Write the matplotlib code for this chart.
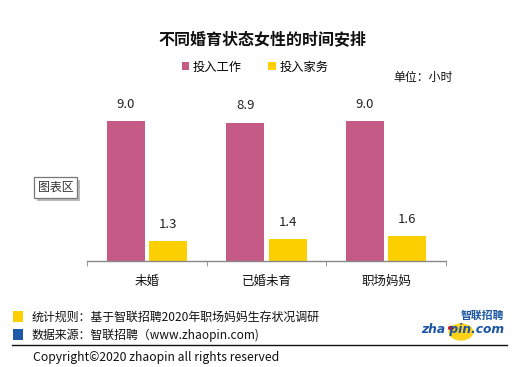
import matplotlib.pyplot as plt
import numpy as np
from matplotlib.patches import Rectangle, Circle
from matplotlib.lines import Line2D

plt.rcParams['font.family'] = ['Noto Sans CJK SC', 'DejaVu Sans']

# data
categories = ['未婚', '已婚未育', '职场妈妈']
work_hours = [9.0, 8.9, 9.0]
house_hours = [1.3, 1.4, 1.6]
series_names = ['投入工作', '投入家务']

PINK = '#C55A87'
YELLOW = '#FCD000'
BLUE = '#1B55A3'
W, H = 532, 367


def fx(x):
    return x / W


def fy(y):
    return 1 - y / H


fig = plt.figure(figsize=(5.32, 3.67), dpi=100)
ax = fig.add_axes([fx(87), fy(261), fx(446) - fx(87), (261 - 105.4) / H])

x = np.arange(len(categories))
bw = 0.317
off = 0.177
b1 = ax.bar(x - off, work_hours, bw, color=PINK, label=series_names[0])
b2 = ax.bar(x + off, house_hours, bw, color=YELLOW, label=series_names[1])

for bars in (b1, b2):
    for r in bars:
        ax.annotate(f'{r.get_height():.1f}', (r.get_x() + r.get_width() / 2, r.get_height()),
                    xytext=(0, 12), textcoords='offset points', ha='center', va='center',
                    fontsize=9.5, color='#222222')

ax.set_xlim(-0.5, 2.5)
ax.set_ylim(0, 10)
for s in ['top', 'left', 'right']:
    ax.spines[s].set_visible(False)
ax.spines['bottom'].set_color('#888888')
ax.spines['bottom'].set_linewidth(1.0)
ax.set_yticks([])
ax.set_xticks(x)
ax.set_xticklabels(categories, fontsize=9, color='#111111')
ax.set_xticks([-0.5, 0.5, 1.5, 2.5], minor=True)
ax.tick_params(axis='x', which='major', length=0, pad=10)
ax.tick_params(axis='x', which='minor', length=3.5, color='#888888', direction='out')

# title and legend
fig.text(fx(262), fy(39), '不同婚育状态女性的时间安排', ha='center', va='center',
         fontsize=11.5, fontweight='bold', color='#111111')
fig.legend(handles=[b1, b2], loc='center', bbox_to_anchor=(fx(255), fy(67)), ncol=2,
           frameon=False, fontsize=8.8, handlelength=0.6, handleheight=0.6,
           handletextpad=0.3, columnspacing=2.2, borderaxespad=0)
fig.text(fx(393), fy(77), '单位：小时', ha='left', va='center', fontsize=8.6, color='#111111')

# excel "chart area" tooltip
fig.add_artist(Rectangle((fx(37), fy(201)), fx(43), 21 / H, transform=fig.transFigure,
                         facecolor='#BBBBBB', edgecolor='none'))
fig.add_artist(Rectangle((fx(34), fy(198)), fx(43), 21 / H, transform=fig.transFigure,
                         facecolor='white', edgecolor='#777777', lw=0.9))
fig.text(fx(55.5), fy(187.5), '图表区', ha='center', va='center', fontsize=8.6, color='#333333')

# footer
fig.add_artist(Rectangle((fx(13), fy(322)), fx(10), 11 / H, transform=fig.transFigure,
                         facecolor=YELLOW, edgecolor='none'))
fig.add_artist(Rectangle((fx(13), fy(340)), fx(10), 11 / H, transform=fig.transFigure,
                         facecolor='#1F5AA8', edgecolor='none'))
fig.text(fx(32), fy(317), '统计规则：基于智联招聘2020年职场妈妈生存状况调研', ha='left', va='center',
         fontsize=8.6, color='#111111')
fig.text(fx(32), fy(335), '数据来源：智联招聘（www.zhaopin.com)', ha='left', va='center',
         fontsize=8.6, color='#111111')
fig.add_artist(Line2D([fx(12), fx(507)], [fy(345), fy(345)], transform=fig.transFigure,
                      color='#111111', lw=1.0))
fig.text(fx(33), fy(358), 'Copyright©2020 zhaopin all rights reserved', ha='left', va='center',
         fontsize=8.8, color='#111111')

# logo
fig.add_artist(Circle((fx(461), fy(332)), 12.5 / W, transform=fig.transFigure,
                      facecolor='#FFD21A', edgecolor='none'))
fig.add_artist(Circle((fx(451), fy(328)), 3.2 / W, transform=fig.transFigure,
                      facecolor='#D0141E', edgecolor='none'))
fig.text(fx(482), fy(316), '智联招聘', ha='center', va='center', fontsize=7.8,
         fontweight='bold', color=BLUE)
fig.text(fx(463), fy(329.5), 'zha pin.com', ha='center', va='center', fontsize=8.8,
         fontweight='bold', fontstyle='italic', family='DejaVu Sans', color=BLUE)

fig.savefig('out.png', dpi=100)
